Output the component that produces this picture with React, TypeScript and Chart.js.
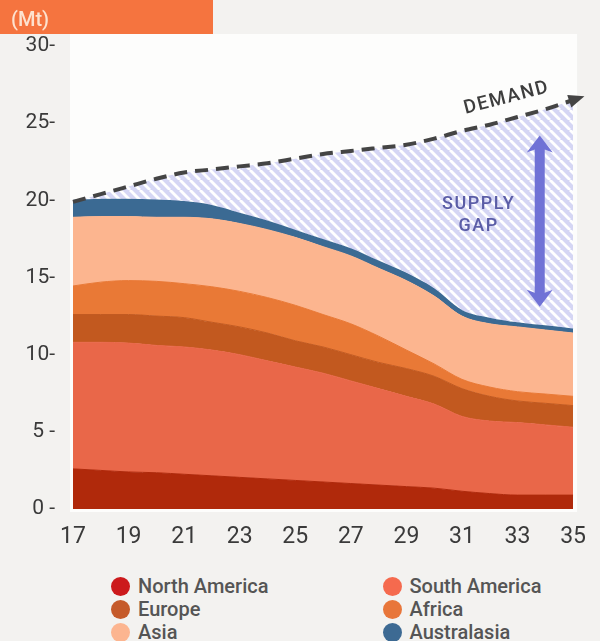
import React, { useEffect, useRef } from "react";
import { Chart, registerables } from "chart.js";

Chart.register(...registerables);

// ---- data ----
const years = ["17","18","19","20","21","22","23","24","25","26","27","28","29","30","31","32","33","34","35"];
const northAmerica = [2.6, 2.5, 2.4, 2.35, 2.25, 2.15, 2.05, 1.95, 1.85, 1.75, 1.65, 1.55, 1.45, 1.35, 1.15, 1.0, 0.9, 0.9, 0.9];
const southAmerica = [8.2, 8.3, 8.35, 8.25, 8.25, 8.15, 7.95, 7.65, 7.35, 7.05, 6.65, 6.25, 5.85, 5.45, 4.85, 4.7, 4.7, 4.55, 4.4];
const europe = [1.8, 1.8, 1.85, 1.9, 1.9, 1.8, 1.8, 1.8, 1.7, 1.7, 1.7, 1.7, 1.8, 1.8, 1.8, 1.6, 1.4, 1.4, 1.4];
const africa = [1.85, 2.1, 2.2, 2.25, 2.2, 2.3, 2.3, 2.3, 2.3, 2.1, 2.0, 1.7, 1.2, 0.8, 0.6, 0.6, 0.6, 0.6, 0.6];
const asia = [4.45, 4.25, 4.15, 4.15, 4.3, 4.4, 4.4, 4.4, 4.4, 4.4, 4.4, 4.4, 4.5, 4.4, 4.1, 4.1, 4.2, 4.15, 4.1];
const australasia = [1.1, 1.15, 1.15, 1.15, 1.05, 0.9, 0.7, 0.6, 0.5, 0.5, 0.5, 0.5, 0.5, 0.5, 0.4, 0.4, 0.3, 0.3, 0.3];
const demand = [19.9, 20.4, 20.9, 21.4, 21.8, 22.0, 22.2, 22.4, 22.7, 23.0, 23.2, 23.4, 23.6, 24.0, 24.5, 24.9, 25.4, 25.9, 26.5];

const seriesNames = ["North America", "South America", "Europe", "Africa", "Asia", "Australasia"];
const seriesValues = [northAmerica, southAmerica, europe, africa, asia, australasia];
const areaColors = ["#b0290b", "#e96749", "#c2591f", "#e97936", "#fcb58f", "#3b6a93"];
const legendColors = ["#cc1a1c", "#f56a4e", "#c55a2a", "#e8763a", "#fcb590", "#3d6a93"];
const legendOrder = [0, 1, 2, 3, 4, 5];

const yTickValues = [0, 5, 10, 15, 20, 25, 30];
const yTickLabels = ["0 -", "5 -", "10-", "15-", "20-", "25-", "30-"];
const unitLabel = "(Mt)";
const demandLabel = "DEMAND";
const gapLabel = ["SUPPLY", "GAP"];
// annotation anchors in data units (year, Mt)
const gapArrowYear = 33.8;
const gapArrowTop = 24.2;
const gapArrowBottom = 13.1;
const gapTextYear = 31.6;
const gapTextValues = [19.75, 18.3];
const demandTextYear = 32.8;

const FONT = "Roboto, 'Noto Sans', sans-serif";

export default function App() {
  const ref = useRef<HTMLCanvasElement>(null);

  useEffect(() => {
    document.body.style.margin = "0";
    document.body.style.background = "#f3f2f0";
    const canvas = ref.current!;
    const ctx = canvas.getContext("2d")!;

    // hatch pattern
    const pc = document.createElement("canvas");
    pc.width = 10;
    pc.height = 10;
    const p = pc.getContext("2d")!;
    p.fillStyle = "#d5d6f4";
    p.fillRect(0, 0, 10, 10);
    p.strokeStyle = "#ffffff";
    p.lineWidth = 2.8;
    for (const off of [-10, 0, 10]) {
      p.beginPath();
      p.moveTo(off, 0);
      p.lineTo(off + 10, 10);
      p.stroke();
    }
    const pattern = ctx.createPattern(pc, "repeat")!;

    const bgPlugin = {
      id: "bg",
      beforeDraw(chart: any) {
        const c = chart.ctx;
        const a = chart.chartArea;
        c.save();
        c.fillStyle = "#fdfdfc";
        c.fillRect(a.left - 3, 34, a.right - a.left + 7, a.bottom - 34 + 3);
        c.fillStyle = "#f5743f";
        c.fillRect(0, 0, 213, 34);
        c.fillStyle = "#fde2cf";
        c.font = `500 20px ${FONT}`;
        c.textBaseline = "middle";
        c.textAlign = "left";
        c.fillText(unitLabel, 11, 21);
        c.restore();
      },
    };

    const annoPlugin = {
      id: "anno",
      afterDatasetsDraw(chart: any) {
        const c = chart.ctx;
        const xs = chart.scales.x;
        const ys = chart.scales.y;
        const meta = chart.getDatasetMeta(6);
        const pts = meta.data;
        const n = pts.length;
        // arrowhead on demand line
        const p1 = pts[n - 2];
        const p2 = pts[n - 1];
        const ang = Math.atan2(p2.y - p1.y, p2.x - p1.x);
        c.save();
        c.translate(p2.x, p2.y);
        c.rotate(ang);
        c.fillStyle = "#444444";
        c.beginPath();
        c.moveTo(12, 0);
        c.lineTo(-4, -6.5);
        c.lineTo(-4, 6.5);
        c.closePath();
        c.fill();
        c.restore();

        // DEMAND label
        const di = demandTextYear - 17;
        const i0 = Math.floor(di);
        const f = di - i0;
        const dv = demand[i0] * (1 - f) + demand[i0 + 1] * f;
        const dx = xs.getPixelForValue(di);
        const dy = ys.getPixelForValue(dv);
        const slope = Math.atan2(
          ys.getPixelForValue(demand[i0 + 2]) - ys.getPixelForValue(demand[i0 - 1]),
          xs.getPixelForValue(i0 + 2) - xs.getPixelForValue(i0 - 1)
        );
        c.save();
        c.translate(dx, dy);
        c.rotate(slope);
        c.fillStyle = "#3d3d3d";
        c.font = `500 19px ${FONT}`;
        (c as any).letterSpacing = "1.5px";
        c.textAlign = "center";
        c.textBaseline = "middle";
        c.fillText(demandLabel, 0, -21);
        c.restore();

        // SUPPLY GAP text
        c.save();
        c.fillStyle = "#5b5da6";
        c.font = `500 18px ${FONT}`;
        (c as any).letterSpacing = "1.5px";
        c.textAlign = "center";
        c.textBaseline = "middle";
        gapLabel.forEach((t, k) => {
          c.fillText(t, xs.getPixelForValue(gapTextYear - 17), ys.getPixelForValue(gapTextValues[k]));
        });
        c.restore();

        // double arrow
        const ax = xs.getPixelForValue(gapArrowYear - 17);
        const at = ys.getPixelForValue(gapArrowTop);
        const ab = ys.getPixelForValue(gapArrowBottom);
        const hw = 13;
        const hh = 17;
        const sw = 5;
        c.save();
        c.fillStyle = "#7072d6";
        c.beginPath();
        c.moveTo(ax, at);
        c.lineTo(ax + hw, at + hh);
        c.lineTo(ax + sw, at + hh - 3);
        c.lineTo(ax + sw, ab - hh + 3);
        c.lineTo(ax + hw, ab - hh);
        c.lineTo(ax, ab);
        c.lineTo(ax - hw, ab - hh);
        c.lineTo(ax - sw, ab - hh + 3);
        c.lineTo(ax - sw, at + hh - 3);
        c.lineTo(ax - hw, at + hh);
        c.closePath();
        c.fill();
        c.restore();
      },
    };

    const areaSets = seriesValues.map((vals, i) => ({
      label: seriesNames[i],
      data: vals,
      backgroundColor: areaColors[i],
      borderColor: areaColors[i],
      borderWidth: 1,
      pointRadius: 0,
      fill: i === 0 ? "origin" : "-1",
      cubicInterpolationMode: "monotone" as const,
      stack: "supply",
    }));

    const chart = new Chart(ctx, {
      type: "line",
      data: {
        labels: years,
        datasets: [
          ...areaSets,
          {
            label: "Demand",
            data: demand,
            borderColor: "#444444",
            borderWidth: 4,
            borderDash: [13, 8],
            backgroundColor: pattern as any,
            pointRadius: 0,
            fill: { target: 5 } as any,
            cubicInterpolationMode: "monotone" as const,
            stack: "demand",
            order: -1,
            clip: false as any,
          },
        ],
      },
      options: {
        animation: false,
        responsive: false,
        events: [],
        layout: { padding: { left: 0, right: 23, top: 46, bottom: 0 } },
        plugins: {
          legend: { display: false },
          tooltip: { enabled: false },
        },
        scales: {
          x: {
            type: "category",
            offset: false,
            grid: { display: false, drawTicks: false },
            border: { display: false },
            ticks: {
              autoSkip: false,
              maxRotation: 0,
              padding: 14,
              color: "#3a3a3a",
              font: { family: FONT, size: 23 },
              callback: (_v: any, idx: number) => (idx % 2 === 0 ? years[idx] : ""),
            },
            afterFit: (s: any) => {
              s.height = 51;
            },
          },
          y: {
            stacked: true,
            min: 0,
            max: 30,
            grid: { display: false, drawTicks: false },
            border: { display: false },
            afterBuildTicks: (s: any) => {
              s.ticks = yTickValues.map((v) => ({ value: v }));
            },
            ticks: {
              padding: 18,
              color: "#3a3a3a",
              font: { family: FONT, size: 21 },
              callback: (v: any) => {
                const k = yTickValues.indexOf(Number(v));
                return k >= 0 ? yTickLabels[k] : "";
              },
            },
            afterFit: (s: any) => {
              s.width = 73;
            },
          },
        },
      },
      plugins: [bgPlugin, annoPlugin],
    });

    return () => chart.destroy();
  }, []);

  const rows = [0, 1, 2];
  return (
    <div style={{ position: "relative", width: 600, height: 641, background: "#f3f2f0", overflow: "hidden" }}>
      <canvas ref={ref} width={600} height={560} style={{ display: "block", width: 600, height: 560 }} />
      {legendOrder.map((si, k) => {
        const col = k % 2;
        const row = Math.floor(k / 2);
        const cy = 586 + rows[row] * 23;
        const cx = col === 0 ? 120.5 : 392;
        return (
          <div key={si}>
            <div
              style={{
                position: "absolute",
                left: cx - 9.5,
                top: cy - 9.5,
                width: 19,
                height: 19,
                borderRadius: "50%",
                background: legendColors[si],
              }}
            />
            <div
              style={{
                position: "absolute",
                left: cx + 17.5,
                top: cy - 13,
                height: 26,
                lineHeight: "26px",
                fontFamily: FONT,
                fontSize: 20,
                fontWeight: 500,
                color: "#555555",
                whiteSpace: "nowrap",
              }}
            >
              {seriesNames[si]}
            </div>
          </div>
        );
      })}
    </div>
  );
}
